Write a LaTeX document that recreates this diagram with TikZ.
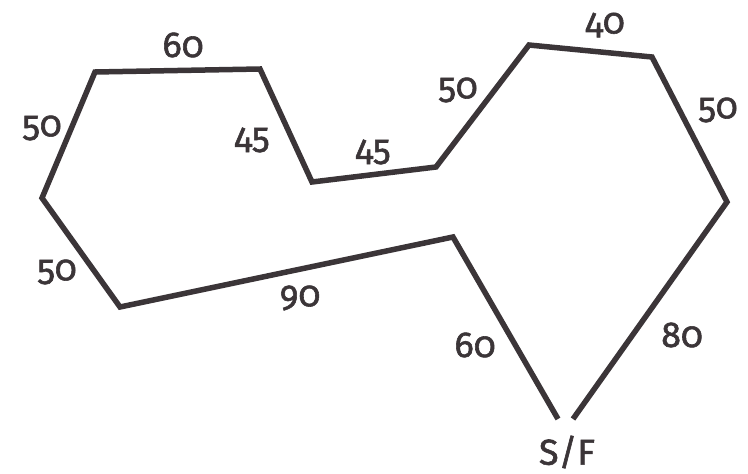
\documentclass[tikz,border=0pt]{standalone}
\usepackage{fontspec}
\setmainfont[Numbers=OldStyle, FakeBold=1.6]{Fira Sans}
\definecolor{ink}{HTML}{3B3538}
\begin{document}
\begin{tikzpicture}[x=1pt, y=-1pt, every node/.style={font=\fontsize{36}{38}\selectfont, text=ink}]
  \useasboundingbox (0,0) rectangle (748,474);
  \coordinate (S) at (558,419); \coordinate (F) at (573,419);
  \coordinate (P1) at (453,237); \coordinate (P2) at (120,307); \coordinate (P3) at (42,198);
  \coordinate (P4) at (95,72); \coordinate (P5) at (260,69); \coordinate (P6) at (312,182);
  \coordinate (P7) at (436,167); \coordinate (P8) at (529,45); \coordinate (P9) at (652,57);
  \coordinate (P10) at (727,202);
  \draw[ink, line width=5.5pt] (S)--(P1)--(P2)--(P3)--(P4)--(P5)--(P6)--(P7)--(P8)--(P9)--(P10)--(F);
  \foreach \t/\x/\y in {60/183/45, 50/42/128, 50/57/272, 90/300/298, 45/252/140, 45/373/152,
                        50/458/90, 40/605/25, 50/718/110, 80/682/335, 60/475/345}
    \node at (\x,\y) {\t};
  \node (SF) at (567,452) {S/F};
\end{tikzpicture}
\end{document}
